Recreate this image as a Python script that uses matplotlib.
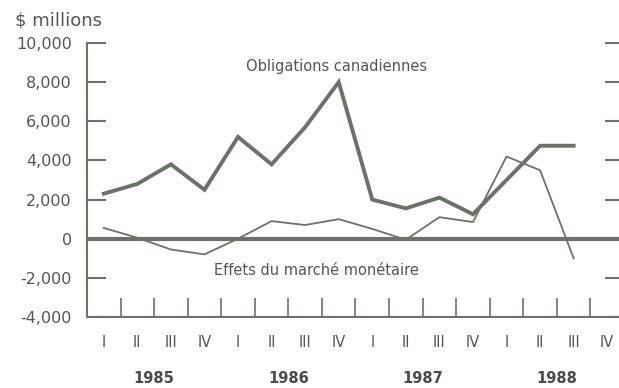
"""Quarterly flows: Canadian bonds vs money-market effects, 1985-1988."""

import matplotlib.pyplot as plt
import matplotlib.transforms as mtransforms

# Quarterly values, $ millions (1985 I .. 1988 III)
quarters = ["I", "II", "III", "IV"] * 4
years = ["1985", "1986", "1987", "1988"]
obligations = [2300, 2800, 3800, 2500, 5200, 3800, 5700, 8000,
               2000, 1550, 2100, 1250, 3000, 4750, 4750]
effets = [550, 50, -550, -800, 0, 900, 700, 1000,
          500, -50, 1100, 850, 4200, 3500, -1000]
yticks = [-4000, -2000, 0, 2000, 4000, 6000, 8000, 10000]
ytick_labels = ["-4,000", "-2,000", "0", "2,000", "4,000", "6,000", "8,000", "10,000"]

LINE = "#6c716a"
TEXT = "#555555"

plt.rcParams["font.family"] = ["DejaVu Sans"]

fig = plt.figure(figsize=(6.19, 3.88), dpi=100)
# axes runs slightly past the right edge, so only the right-hand ticks show
ax = fig.add_axes([87 / 619, 1 - 317 / 388, 537 / 619, 274 / 388])

x = list(range(len(obligations)))
ax.plot(x, obligations, color=LINE, lw=2.8, solid_joinstyle="miter", zorder=3)
ax.plot(range(len(effets)), effets, color=LINE, lw=1.3, zorder=3)
ax.axhline(0, color=LINE, lw=3.0, zorder=2)

ax.set_xlim(-0.5, 15.5)
ax.set_ylim(-4000, 10000)

for side in ("top", "right"):
    ax.spines[side].set_visible(False)
for side in ("left", "bottom"):
    ax.spines[side].set_color(LINE)
    ax.spines[side].set_linewidth(1.5)

ax.set_yticks(yticks)
ax.set_yticklabels(ytick_labels)
ax.tick_params(axis="y", direction="in", length=13.5, width=1.5, color=LINE,
               right=True, pad=11, labelsize=11.5, labelcolor=TEXT)

# separators between quarters, quarter names as minor labels
ax.set_xticks([k + 0.5 for k in range(len(quarters) - 1)])
ax.set_xticklabels([])
ax.tick_params(axis="x", which="major", direction="in", length=13.5,
               width=1.2, color=LINE)
ax.set_xticks(range(len(quarters)), minor=True)
ax.set_xticklabels(quarters, minor=True)
ax.tick_params(axis="x", which="minor", length=0, pad=13, labelsize=10.5,
               labelcolor=TEXT)

trans = mtransforms.blended_transform_factory(ax.transData, ax.transAxes)
for i, yr in enumerate(years):
    ax.text(4 * i + 1.5, -0.226, yr, transform=trans, ha="center", va="center",
            fontsize=10.5, fontweight="bold", color="#4a4a4a")

ax.text(6.95, 8800, "Obligations canadiennes", ha="center", va="center",
        fontsize=10.5, color=TEXT)
ax.text(6.35, -1600, "Effets du marché monétaire", ha="center", va="center",
        fontsize=10.5, color=TEXT)

fig.text(15 / 619, 1 - 20 / 388, "$ millions", ha="left", va="center",
         fontsize=13, color=TEXT)

fig.savefig("out.png", dpi=100)
